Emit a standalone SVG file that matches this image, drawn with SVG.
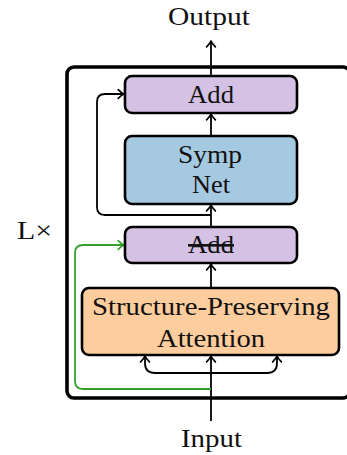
<svg xmlns="http://www.w3.org/2000/svg" width="347" height="455" viewBox="0 0 347 455">
  <style>
    text { font-family: "Liberation Serif", "Times New Roman", serif; font-size: 26px; fill: #111; text-anchor: middle; }
    .box { stroke: #000; stroke-width: 2.6; }
    .add { fill: #d4c1e4; }
    .symp { fill: #a6c9e2; }
    .spa { fill: #fecd9d; }
    .frame { fill: none; stroke: #000; stroke-width: 3.6; }
    .wire { fill: none; stroke: #000; stroke-width: 1.8; }
    .wire.green { stroke: #33a02c; }
  </style>
  <defs>
    <marker id="tip" markerUnits="userSpaceOnUse" markerWidth="12" markerHeight="12" viewBox="-7 -6 8 12" refX="0" refY="0" orient="auto" overflow="visible">
      <path d="M-5.8,-4.4 C-3.6,-2.1 -1.5,-0.6 0,0 C-1.5,0.6 -3.6,2.1 -5.8,4.4" fill="none" stroke="#000" stroke-width="1.7" stroke-linecap="round" stroke-linejoin="round"/>
    </marker>
    <marker id="tip-green" markerUnits="userSpaceOnUse" markerWidth="12" markerHeight="12" viewBox="-7 -6 8 12" refX="0" refY="0" orient="auto" overflow="visible">
      <path d="M-5.8,-4.4 C-3.6,-2.1 -1.5,-0.6 0,0 C-1.5,0.6 -3.6,2.1 -5.8,4.4" fill="none" stroke="#33a02c" stroke-width="1.7" stroke-linecap="round" stroke-linejoin="round"/>
    </marker>
  </defs>

  <!-- repeated block frame -->
  <g id="block-frame">
    <rect class="frame" x="67" y="67" width="283" height="331" rx="7"/>
  </g>

  <!-- connectors -->
  <g id="connectors">
    <path class="wire" d="M211,76 V41" marker-end="url(#tip)"/>
    <path class="wire" d="M211,136 V114" marker-end="url(#tip)"/>
    <path class="wire" d="M211,227 V205" marker-end="url(#tip)"/>
    <path class="wire" d="M211,288 V264" marker-end="url(#tip)"/>
    <path class="wire" d="M211,421 V356" marker-end="url(#tip)"/>
    <path class="wire" d="M211,373 H155 Q145,373 145,363 V356" marker-end="url(#tip)"/>
    <path class="wire" d="M211,373 H267 Q277,373 277,363 V356" marker-end="url(#tip)"/>
    <path class="wire" d="M211,215 H105 Q97,215 97,207 V102 Q97,94 105,94 H124" marker-end="url(#tip)"/>
    <path class="wire green" d="M211,389 H83 Q75,389 75,381 V253 Q75,245 83,245 H124" marker-end="url(#tip-green)"/>
  </g>

  <g id="add-top">
    <rect class="box add" x="125" y="76" width="172" height="37" rx="7"/>
    <text x="211" y="103" textLength="46" lengthAdjust="spacingAndGlyphs">Add</text>
  </g>

  <g id="symp-net">
    <rect class="box symp" x="125" y="136" width="172" height="68" rx="7"/>
    <text x="210" y="163" textLength="64" lengthAdjust="spacingAndGlyphs">Symp</text>
    <text x="211" y="193" textLength="38" lengthAdjust="spacingAndGlyphs">Net</text>
  </g>

  <g id="add-bottom">
    <rect class="box add" x="125" y="227" width="172" height="36" rx="7"/>
    <text x="211" y="253" textLength="46" lengthAdjust="spacingAndGlyphs" text-decoration="line-through">Add</text>
  </g>

  <g id="sp-attention">
    <rect class="box spa" x="82" y="288" width="257" height="67" rx="7"/>
    <text x="211" y="315" textLength="238" lengthAdjust="spacingAndGlyphs">Structure-Preserving</text>
    <text x="211" y="347" textLength="108" lengthAdjust="spacingAndGlyphs">Attention</text>
  </g>

  <g id="labels">
    <text x="209" y="25" textLength="82" lengthAdjust="spacingAndGlyphs">Output</text>
    <text x="211.5" y="447" textLength="61" lengthAdjust="spacingAndGlyphs">Input</text>
    <text x="34.5" y="239" textLength="35" lengthAdjust="spacingAndGlyphs">L×</text>
  </g>
</svg>
